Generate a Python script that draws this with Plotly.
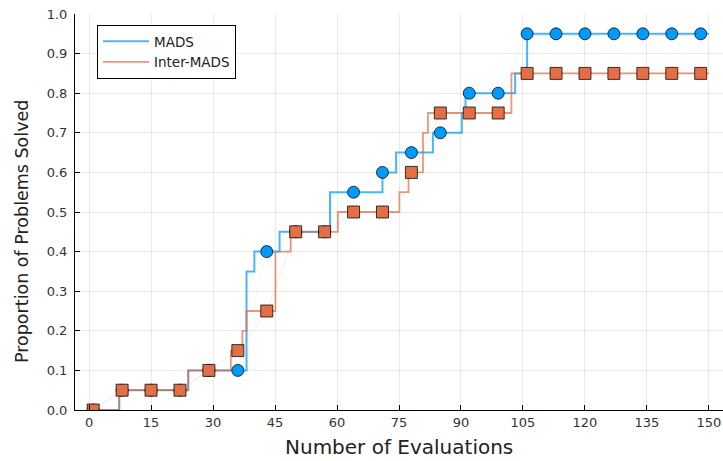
import plotly.graph_objects as go

# Step profiles: x where the proportion changes, and the new proportion
mads_step_x = [0, 7.3, 24.0, 38.1, 40.0, 46.1, 58.3, 71.0, 74.3, 83.2, 90.2, 91.1, 103.1, 106.0, 150]
mads_step_y = [0.0, 0.05, 0.10, 0.35, 0.40, 0.45, 0.55, 0.60, 0.65, 0.70, 0.75, 0.80, 0.85, 0.95, 0.95]

inter_step_x = [0, 7.3, 24.0, 34.3, 37.1, 38.1, 45.1, 48.8, 60.2, 75.1, 77.3, 80.8, 82.0, 102.2, 150]
inter_step_y = [0.0, 0.05, 0.10, 0.15, 0.20, 0.25, 0.40, 0.45, 0.50, 0.55, 0.60, 0.70, 0.75, 0.85, 0.85]

# Sampled evaluations shown with markers
marker_x = [1, 8, 15, 22, 29, 36, 43, 50, 57, 64, 71, 78, 85, 92, 99, 106, 113, 120, 127, 134, 141, 148]
mads_marker_y = [0.0, 0.05, 0.05, 0.05, 0.10, 0.10, 0.40, 0.45, 0.45, 0.55, 0.60, 0.65, 0.70, 0.80, 0.80,
                 0.95, 0.95, 0.95, 0.95, 0.95, 0.95, 0.95]
inter_marker_y = [0.0, 0.05, 0.05, 0.05, 0.10, 0.15, 0.25, 0.45, 0.45, 0.50, 0.50, 0.60, 0.75, 0.75, 0.75,
                  0.85, 0.85, 0.85, 0.85, 0.85, 0.85, 0.85]

x_ticks = list(range(0, 151, 15))
y_ticks = [round(0.1 * i, 1) for i in range(11)]

BLUE = "#009AFA"
ORANGE = "#E26F46"
FONT = "DejaVu Sans"

fig = go.Figure()

fig.add_trace(go.Scatter(
    x=mads_step_x, y=mads_step_y, mode="lines", name="MADS",
    line=dict(color="rgba(0,154,250,0.72)", width=2, shape="hv"),
))
fig.add_trace(go.Scatter(
    x=inter_step_x, y=inter_step_y, mode="lines", name="Inter-MADS",
    line=dict(color="rgba(226,111,70,0.72)", width=1.8, shape="hv"),
))
fig.add_trace(go.Scatter(
    x=marker_x, y=mads_marker_y, mode="lines+markers", showlegend=False,
    line=dict(color="rgba(0,154,250,0.07)", width=1),
    marker=dict(symbol="circle", size=12, color=BLUE,
                line=dict(color="rgba(0,0,0,0.75)", width=1)),
))
fig.add_trace(go.Scatter(
    x=marker_x, y=inter_marker_y, mode="lines+markers", showlegend=False,
    line=dict(color="rgba(120,120,120,0.12)", width=1),
    marker=dict(symbol="square", size=12, color=ORANGE,
                line=dict(color="rgba(0,0,0,0.75)", width=1)),
))

axis_common = dict(
    showgrid=True, gridcolor="rgba(0,0,0,0.08)", gridwidth=1,
    zeroline=False, showline=True, linecolor="black", linewidth=1,
    ticks="inside", ticklen=5, tickcolor="black",
    tickfont=dict(family=FONT, size=13, color="#333333"),
    mirror=False,
)

fig.update_layout(
    width=723, height=461,
    margin=dict(l=75, r=0, t=14, b=51),
    paper_bgcolor="white", plot_bgcolor="white",
    font=dict(family=FONT, color="#222222"),
    xaxis=dict(
        range=[-3.4, 153.4], tickvals=x_ticks, ticktext=[str(v) for v in x_ticks],
        **axis_common,
    ),
    yaxis=dict(
        range=[0, 1], tickvals=y_ticks, ticktext=[f"{v:.1f}" for v in y_ticks],
        ticklabelstandoff=4,
        **axis_common,
    ),
    legend=dict(
        x=0.034, y=0.972, xanchor="left", yanchor="top",
        bgcolor="white", bordercolor="black", borderwidth=1,
        font=dict(family=FONT, size=13.5, color="#222222"),
        tracegroupgap=0, itemwidth=46,
    ),
    annotations=[
        dict(text="Number of Evaluations", xref="paper", yref="paper",
             x=0.5, y=-0.0934, xanchor="center", yanchor="middle", showarrow=False,
             font=dict(family=FONT, size=20, color="#222222")),
        dict(text="Proportion of Problems Solved", xref="paper", yref="paper",
             x=-0.0818, y=0.452, xanchor="center", yanchor="middle", showarrow=False,
             textangle=-90, font=dict(family=FONT, size=17.5, color="#222222")),
    ],
)

fig.write_html("out.html")
